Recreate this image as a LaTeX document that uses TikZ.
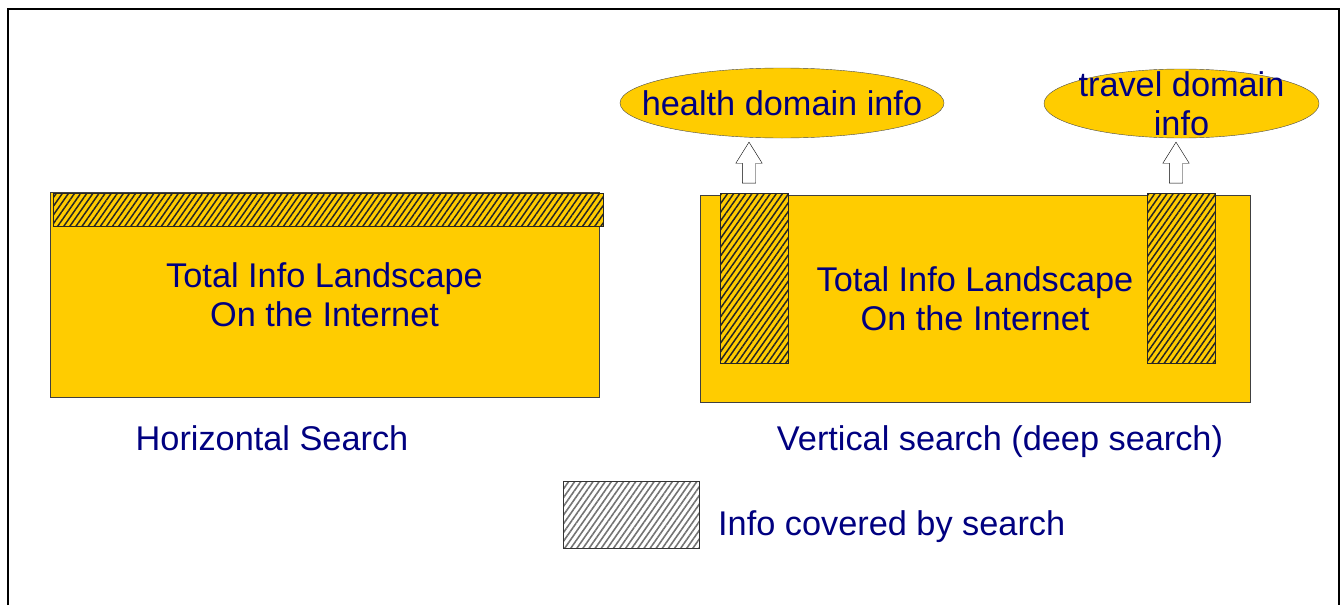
\documentclass[tikz,border=0pt]{standalone}
\usepackage{fontspec}
\setmainfont{Liberation Sans}
\usetikzlibrary{shapes.geometric,shapes.arrows,patterns.meta}
\definecolor{landyellow}{RGB}{255,204,0}
\definecolor{inkblue}{RGB}{0,0,128}
\tikzstyle{landscape}=[rectangle,draw=black!75,fill=landyellow,inner sep=0pt,align=center,text=inkblue,font=\fontsize{34.3}{39}\selectfont]
\tikzstyle{covered}=[rectangle,draw=black!85,inner sep=0pt,preaction={fill=landyellow},pattern={Lines[angle=55,distance=5pt,line width=1.5pt]},pattern color=black!85]
\tikzstyle{legendbox}=[rectangle,draw=black!80,inner sep=0pt,pattern={Lines[angle=55,distance=5pt,line width=1.6pt]},pattern color=black!55]
\tikzstyle{domainblob}=[ellipse,draw=black!70,fill=landyellow,inner sep=0pt]
\tikzstyle{bluetext}=[text=inkblue,font=\fontsize{34.3}{39}\selectfont,inner sep=0pt,align=center]
\tikzstyle{uparrow}=[single arrow,draw=black,fill=white,shape border rotate=90,minimum height=41pt,inner sep=6.5pt,single arrow head extend=6.5pt,single arrow tip angle=64]

\begin{document}
\begin{tikzpicture}[x=1pt,y=-1pt]
	\useasboundingbox (0,0) rectangle (1340,605);
	\draw[line width=1.5pt] (8,605) -- (8,9) -- (1339,9) -- (1339,605);

	% First we draw the two landscapes
	\node[landscape,minimum width=549pt,minimum height=205pt] (hland) at (324.5,294.5) {Total Info Landscape\\On the Internet};
	\node[landscape,minimum width=550pt,minimum height=207pt] (vland) at (975,298.5) {Total Info Landscape\\On the Internet};

	% Then the parts covered by search
	\node[covered,minimum width=550pt,minimum height=33pt] (hstrip) at (328,209.5) {};
	\foreach \pos/\name in {{(754,278)/hstrip1}, {(1181,278)/hstrip2}}
		\node[covered,minimum width=68pt,minimum height=170pt] (\name) at \pos {};

	% Domains and arrows
	\node[domainblob,minimum width=324pt,minimum height=70pt] (health) at (782,103) {};
	\node[domainblob,minimum width=275pt,minimum height=69pt] (travel) at (1181.5,103.5) {};
	\node[bluetext] (healthtext) at (health.center) {health domain info};
	\node[bluetext] (traveltext) at (travel.center) {travel domain\\info};
	\node[uparrow] (harrow) at (749,168) {};
	\node[uparrow] (tarrow) at (1176,168) {};

	% Captions and legend
	\node[bluetext] (hcaption) at (272,438) {Horizontal Search};
	\node[bluetext] (vcaption) at (1000,442) {Vertical search (deep search)};
	\node[legendbox,minimum width=136pt,minimum height=67pt] (legend) at (631,514.5) {};
	\node[bluetext,anchor=west] (legendtext) at (718,527) {Info covered by search};
\end{tikzpicture}
\end{document}
